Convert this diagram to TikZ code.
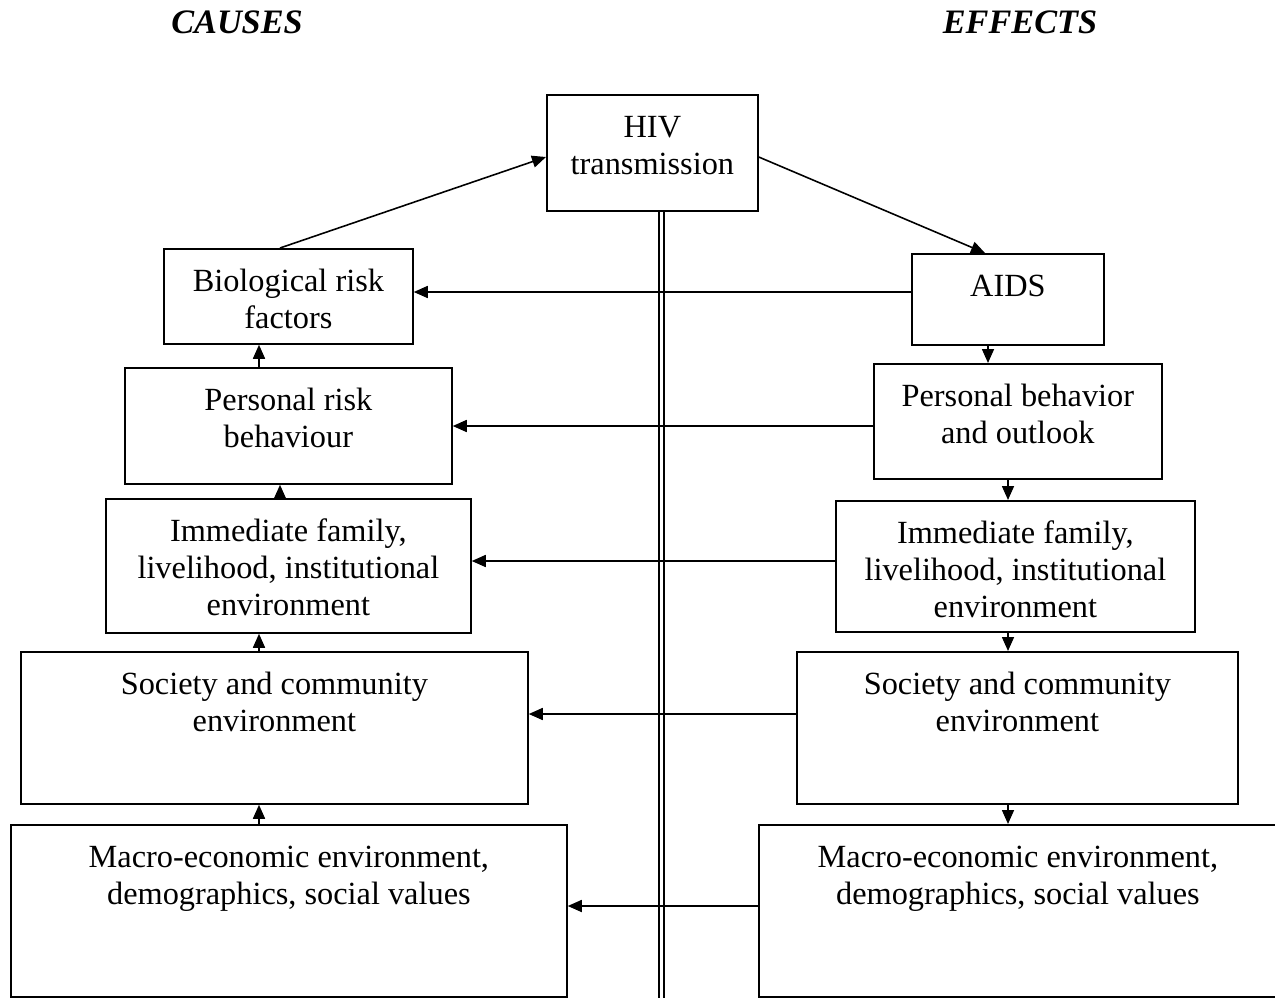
\documentclass[tikz,border=0pt]{standalone}
\usepackage{fontspec}
\setmainfont{Liberation Serif}
\usetikzlibrary{arrows.meta,positioning,calc}
\newlength\pxu \setlength\pxu{0.02cm}
\newcommand{\boxlabel}[3]{\parbox[c][#2\pxu][t]{#1\pxu}{\vspace*{16\pxu}\centering\strut #3}}
\begin{document}
\begin{tikzpicture}[x=0.02cm, y=-0.02cm,
  every node/.style={font=\fontsize{18.4}{21.3}\selectfont},
  box/.style={draw, line width=1pt, inner sep=0pt, anchor=north west},
  title/.style={font=\fontsize{19.5}{22}\selectfont\bfseries\itshape},
  flow/.style={-{Triangle[length=0.28cm, width=0.24cm]}, line width=0.9pt}
]
\clip (0,0) rectangle (1275,998);
% headings
\node[title] (causes) at (237,22) {CAUSES};
\node[title] (effects) at (1020,22) {EFFECTS};
% centre
\node[box] (hiv) at (546,94) {\boxlabel{211}{116}{HIV\\transmission}};
% causes column
\node[box] (bio) at (163,248) {\boxlabel{249}{95}{Biological risk\\factors}};
\node[box] (prisk) at (124,367) {\boxlabel{327}{116}{Personal risk\\behaviour}};
\node[box] (famL) at (105,498) {\boxlabel{365}{134}{Immediate family,\\livelihood, institutional\\environment}};
\node[box] (socL) at (20,651) {\boxlabel{507}{152}{Society and community\\environment}};
\node[box] (macL) at (10,824) {\boxlabel{556}{172}{Macro-economic environment,\\demographics, social values}};
% effects column
\node[box] (aids) at (911,253) {\boxlabel{192}{91}{AIDS}};
\node[box] (pbeh) at (873,363) {\boxlabel{288}{115}{Personal behavior\\and outlook}};
\node[box] (famR) at (835,500) {\boxlabel{359}{131}{Immediate family,\\livelihood, institutional\\environment}};
\node[box] (socR) at (796,651) {\boxlabel{441}{152}{Society and community\\environment}};
\node[box] (macR) at (758,824) {\boxlabel{518}{172}{Macro-economic environment,\\demographics, social values}};
% x positions of the vertical arrows
\coordinate (lx) at (259,0);
\coordinate (lx2) at (280,0);
\coordinate (rx) at (1008,0);
\coordinate (rx1) at (988,0);
% dividing line
\draw[double, line width=1.1pt, double distance=0.06cm] (hiv.south -| 661.5,0) -- (661.5,998);
% diagonal arrows
\draw[flow] (bio.north -| lx2) -- (hiv.west |- 0,157);
\draw[flow] (hiv.east |- 0,157) -- (aids.north -| 985,0);
% causes chain
\draw[flow] (prisk.north -| lx) -- (bio.south -| lx);
\draw[flow] (famL.north -| lx2) -- (prisk.south -| lx2);
\draw[flow] (socL.north -| lx) -- (famL.south -| lx);
\draw[flow] (macL.north -| lx) -- (socL.south -| lx);
% effects chain
\draw[flow] (aids.south -| rx1) -- (pbeh.north -| rx1);
\draw[flow] (pbeh.south -| rx) -- (famR.north -| rx);
\draw[flow] (famR.south -| rx) -- (socR.north -| rx);
\draw[flow] (socR.south -| rx) -- (macR.north -| rx);
% feedback arrows
\draw[flow] (aids.west |- 0,292) -- (bio.east |- 0,292);
\draw[flow] (pbeh.west |- 0,426) -- (prisk.east |- 0,426);
\draw[flow] (famR.west |- 0,561) -- (famL.east |- 0,561);
\draw[flow] (socR.west |- 0,714) -- (socL.east |- 0,714);
\draw[flow] (macR.west |- 0,906) -- (macL.east |- 0,906);
\end{tikzpicture}
\end{document}
